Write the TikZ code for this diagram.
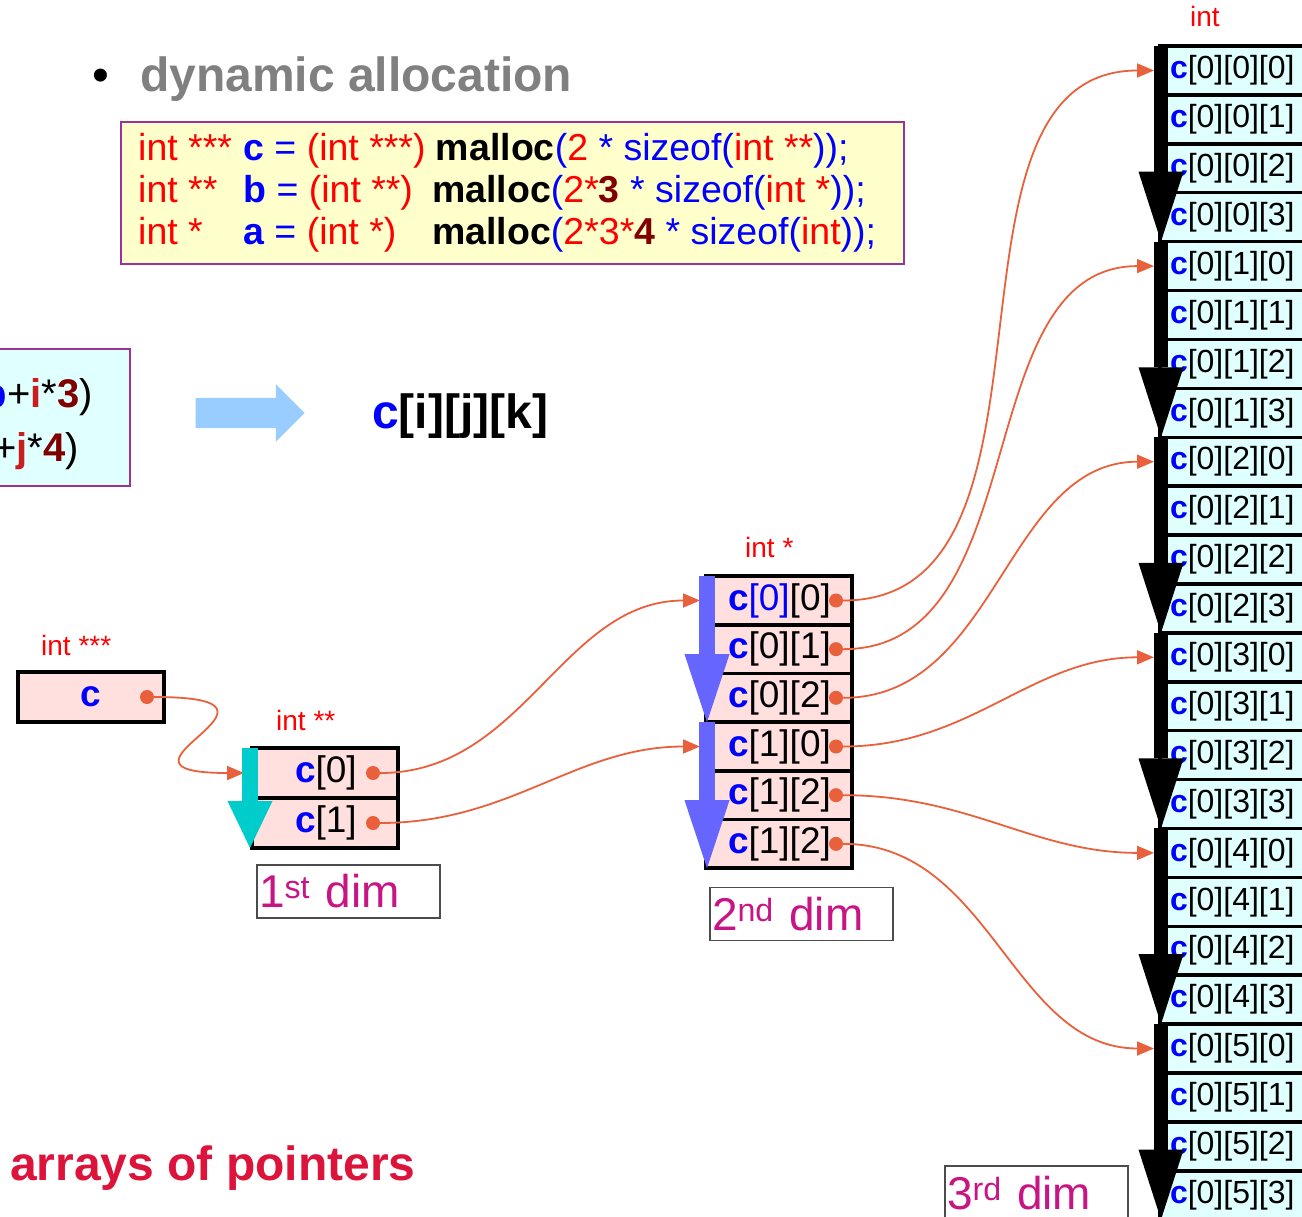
\documentclass[tikz,border=0pt]{standalone}
\usepackage{fontspec}
\setmainfont{Liberation Sans}
\usetikzlibrary{arrows.meta,shapes.arrows}
\definecolor{varblue}{RGB}{0,0,255}
\definecolor{numdark}{RGB}{128,0,0}
\definecolor{idxred}{RGB}{200,30,30}
\definecolor{ptrline}{RGB}{232,97,60}
\definecolor{cellpink}{RGB}{255,224,222}
\definecolor{cellcyan}{RGB}{224,255,255}
\definecolor{codeyellow}{RGB}{255,255,204}
\definecolor{boxpurple}{RGB}{153,51,153}
\definecolor{dimmagenta}{RGB}{199,21,133}
\definecolor{titlegray}{RGB}{128,128,128}
\definecolor{crimsonred}{RGB}{220,20,60}
\definecolor{arrowsky}{RGB}{153,204,255}
\definecolor{dimcyan}{RGB}{0,204,204}
\definecolor{dimblue}{RGB}{102,102,255}
\newcommand\cv{\textbf{\textcolor{varblue}{c}}}
\tikzset{
  typelbl/.style={anchor=base west, inner sep=0pt, text=red, font=\fontsize{28}{30}\selectfont},
  codeline/.style={anchor=base west, inner sep=0pt, font=\fontsize{37.5}{42}\selectfont},
  cellbox/.style={draw=black, line width=3.5pt, fill=cellpink, outer sep=0pt, inner sep=0pt, font=\fontsize{37}{40}\selectfont},
  d1cell/.style={cellbox, minimum width=146pt, minimum height=50pt, text width=60pt, align=right},
  d2cell/.style={cellbox, minimum width=146pt, minimum height=48.67pt, text width=102pt, align=right},
  d3cell/.style={cellbox, fill=cellcyan, minimum width=152pt, minimum height=48.9pt, text width=132pt, align=left, font=\fontsize{32}{34}\selectfont},
  ptrdot/.style={circle, fill=ptrline, minimum size=14pt, inner sep=0pt},
  ptr/.style={draw=ptrline, line width=1.8pt, shorten >=6pt, -{Triangle[length=17pt,width=14pt]}},
  dimlbl/.style={draw=black!70, line width=1.2pt, minimum height=53pt, text width=179pt, inner xsep=2pt, align=left, text=dimmagenta, font=\fontsize{46}{48}\selectfont},
  bigdown/.style 2 args={line width=#2, -{Triangle[length=#1, width=45pt, line width=0pt]}},
}
\begin{document}
\begin{tikzpicture}[x=1pt,y=-1pt]
\useasboundingbox (0,0) rectangle (1302,1217);
\node[anchor=base west, inner sep=0pt, font=\fontsize{48}{50}\selectfont] (bullet) at (92,92) {•};
\node[anchor=base west, inner sep=0pt, text=titlegray, font=\fontsize{48}{50}\selectfont\bfseries] (title) at (140,92) {dynamic allocation};
\node[draw=boxpurple, fill=codeyellow, line width=1.5pt, minimum width=783pt, minimum height=142pt, inner sep=0pt] (code) at (512.5,193) {};
\node[codeline] (codeA) at (138,161) {\makebox[105pt][l]{\textcolor{red}{int ***}}\textbf{\textcolor{varblue}{c}}\textcolor{varblue}{\ = }\textcolor{red}{(int ***)}\ \textbf{malloc}\textcolor{varblue}{(}\textcolor{red}{2}\textcolor{varblue}{\ * sizeof(}\textcolor{red}{int **}\textcolor{varblue}{));}};
\node[codeline] (codeB) at (138,203) {\makebox[105pt][l]{\textcolor{red}{int **}}\makebox[189pt][l]{\textbf{\textcolor{varblue}{b}}\textcolor{varblue}{\ = }\textcolor{red}{(int **)}}\textbf{malloc}\textcolor{varblue}{(}\textcolor{red}{2*}\textbf{\textcolor{numdark}{3}}\textcolor{varblue}{\ * sizeof(}\textcolor{red}{int *}\textcolor{varblue}{));}};
\node[codeline] (codeC) at (138,245) {\makebox[105pt][l]{\textcolor{red}{int *}}\makebox[189pt][l]{\textbf{\textcolor{varblue}{a}}\textcolor{varblue}{\ = }\textcolor{red}{(int *)}}\textbf{malloc}\textcolor{varblue}{(}\textcolor{red}{2*3*}\textbf{\textcolor{numdark}{4}}\textcolor{varblue}{\ * sizeof(}\textcolor{red}{int}\textcolor{varblue}{));}};
\node[draw=boxpurple, fill=cellcyan, line width=1.2pt, minimum width=190pt, minimum height=137pt, inner sep=0pt] (addr) at (35,417.5) {};
\node[anchor=base east, inner sep=0pt, font=\fontsize{40}{44}\selectfont] (addrA) at (93,407) {\textbf{\textcolor{varblue}{b}}+\textbf{\textcolor{idxred}{i}}*\textbf{\textcolor{numdark}{3}})};
\node[anchor=base east, inner sep=0pt, font=\fontsize{40}{44}\selectfont] (addrB) at (79,461) {+\textbf{\textcolor{idxred}{j}}*\textbf{\textcolor{numdark}{4}})};
\node[single arrow, fill=arrowsky, minimum height=109pt, inner xsep=0pt, inner ysep=15pt, single arrow head extend=13.5pt] (goto) at (242.5,413) {};
\node[anchor=base west, inner sep=0pt, font=\fontsize{48}{50}\selectfont\bfseries] (cijk) at (372,428) {\textcolor{varblue}{c}[i][j][k]};
\node[anchor=base west, inner sep=0pt, text=crimsonred, font=\fontsize{48}{50}\selectfont\bfseries] (footer) at (10,1180) {arrays of pointers};
\node[typelbl] (type3) at (41,655) {int ***};
\node[typelbl] (type2) at (276,730) {int **};
\node[typelbl] (type1) at (745,557) {int *};
\node[typelbl] (type0) at (1190,27) {int};
\node[cellbox, minimum width=146pt, minimum height=50pt, font=\fontsize{37}{40}\selectfont\bfseries, text=varblue] (cptr) at (91,697) {c};
\node[ptrdot] (cdot) at ([xshift=-17pt]cptr.east) {};
\foreach \i in {0,1}{
  \node[d1cell] (d1r\i) at (325,{773+50*\i}) {\cv[\i]};
  \node[ptrdot] (d1dot\i) at ([xshift=-25pt]d1r\i.east) {};
}
\foreach \i/\txt in {0/{\cv\textcolor{varblue}{[0]}[0]},1/{\cv[0][1]},2/{\cv[0][2]},3/{\cv[1][0]},4/{\cv[1][2]},5/{\cv[1][2]}}{
  \node[d2cell] (d2r\i) at (779,{600.5+48.67*\i}) {\txt};
  \node[ptrdot] (d2dot\i) at ([xshift=-16pt]d2r\i.east) {};
}
\foreach \j in {0,...,5}{
  \foreach \m in {0,...,3}
    \node[d3cell] (d3r\j\m) at (1236,{70.5+48.9*(4*\j+\m)}) {\cv[0][\j][\m]};
}
\node[dimlbl] (dim1) at (348.5,891.5) {1\textsuperscript{st} dim};
\node[dimlbl] (dim2) at (801.5,914) {2\textsuperscript{nd} dim};
\node[dimlbl, minimum height=55pt] (dim3) at (1036.5,1193.5) {3\textsuperscript{rd} dim};
\draw[ptr, shorten >=8pt] (cdot) to[out=0,in=180,looseness=3.5] (d1r0.west);
\draw[ptr] (d1dot0) to[out=0,in=180] (d2r0.west);
\draw[ptr] (d1dot1) to[out=0,in=180] (d2r3.west);
\foreach \i in {0,...,5}
  \draw[ptr] (d2dot\i) to[out=0,in=180] (d3r\i0.west);
\draw[dimcyan, bigdown={47pt}{16pt}] ([xshift=-2pt]d1r0.north west) -- ([xshift=-2pt]d1r1.south west);
\draw[dimblue, bigdown={68pt}{16pt}] ([xshift=1pt]d2r0.north west) -- ([xshift=1pt]d2r2.south west);
\draw[dimblue, bigdown={68pt}{16pt}] ([xshift=1pt]d2r3.north west) -- ([xshift=1pt]d2r5.south west);
\foreach \j in {0,...,5}
  \draw[bigdown={70pt}{14pt}] ([xshift=1pt]d3r\j0.north west) -- ([xshift=1pt]d3r\j3.south west);
\end{tikzpicture}
\end{document}
